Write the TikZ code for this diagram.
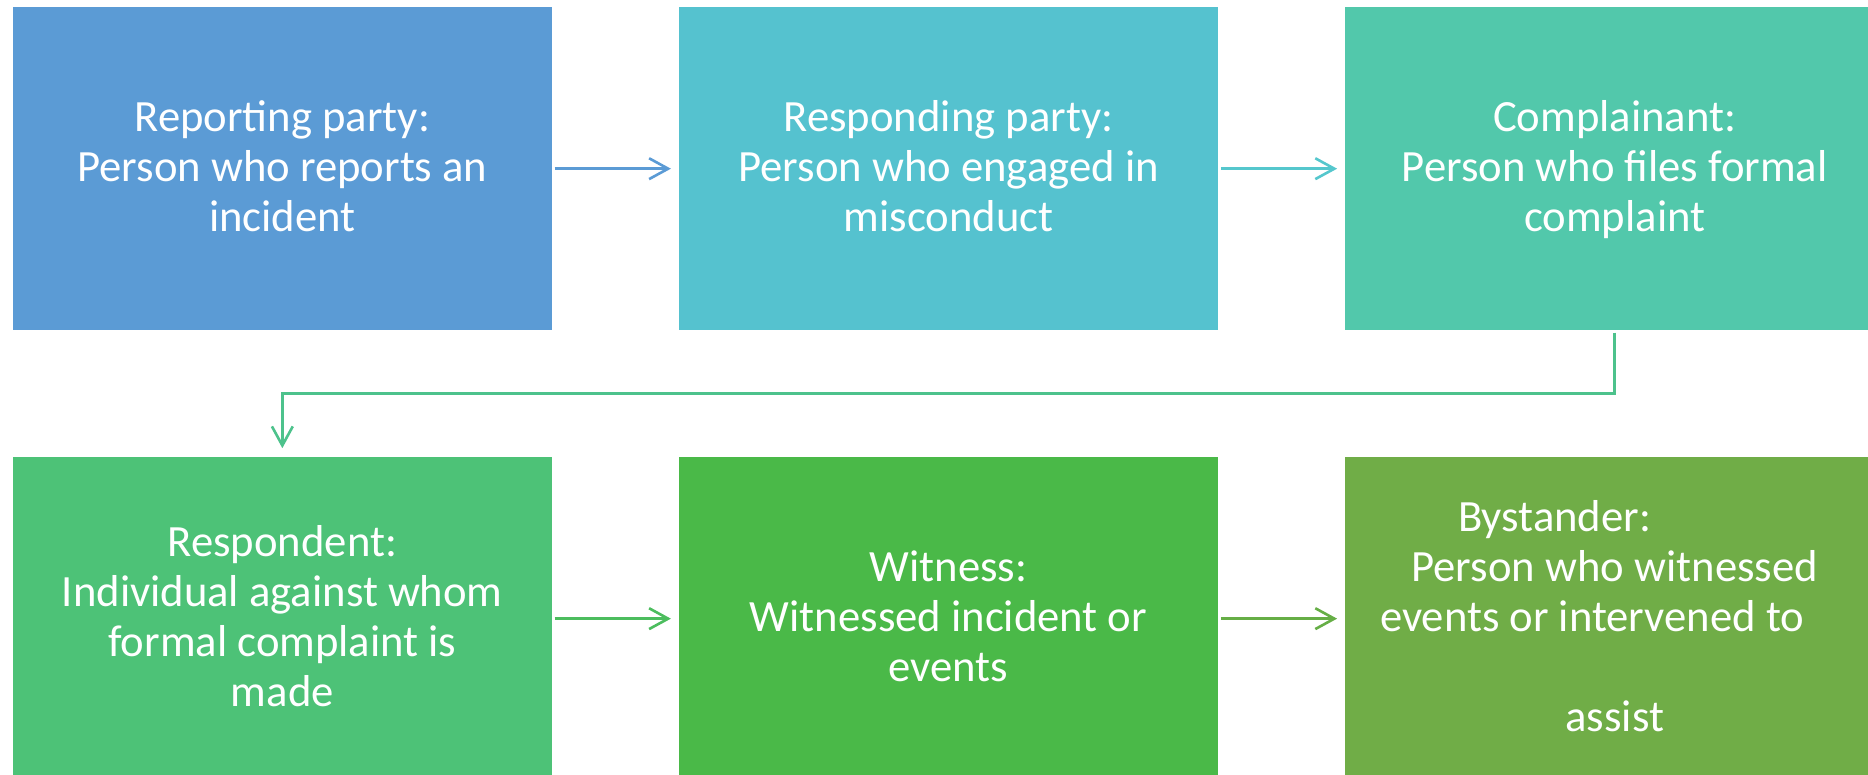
\documentclass[tikz,border=0pt]{standalone}
\usepackage{fontspec}
\setmainfont{Carlito}
\usetikzlibrary{arrows.meta,calc}
\definecolor{cA}{HTML}{5B9BD5}
\definecolor{cB}{HTML}{55C2CF}
\definecolor{cC}{HTML}{52C8AB}
\definecolor{cD}{HTML}{4DC277}
\definecolor{cE}{HTML}{4AB948}
\definecolor{cF}{HTML}{70AD47}
\definecolor{aA}{HTML}{5B9BD5}
\definecolor{aB}{HTML}{55C7CD}
\definecolor{aC}{HTML}{4DC28C}
\definecolor{aD}{HTML}{4CBD5E}
\definecolor{aE}{HTML}{66AE46}
\newcommand{\ls}{\rule[-10.5pt]{0pt}{42pt}}
\tikzset{
  stepbox/.style={rectangle, inner sep=0pt, minimum width=452.7pt, minimum height=270.8pt,
    align=center, text=white, font=\fontsize{37.5}{42}\selectfont},
  conn/.style={line width=2.2pt, -{Straight Barb[length=16pt,width=17.5pt]}}
}
\begin{document}
\begin{tikzpicture}[x=1pt,y=-1pt]
\useasboundingbox (0,0) rectangle (1568,649.7);
\node[stepbox, fill=cA] (b1) at (237,141.6) {\ls Reporting party:\\\ls Person who reports an\\\ls incident};
\node[stepbox, fill=cB] (b2) at (796.2,141.6) {\ls Responding party:\\\ls Person who engaged in\\\ls misconduct};
\node[stepbox, fill=cC] (b3) at (1355.4,141.6) {\ls Complainant:\\\ls Person who files formal\\\ls complaint};
\node[stepbox, fill=cD] (b4) at (237,519.3) {\ls Respondent:\\\ls Individual against whom\\\ls formal complaint is\\\ls made};
\node[stepbox, fill=cE] (b5) at (796.2,519.3) {\ls Witness:\\\ls Witnessed incident or\\\ls events};
\node[stepbox, fill=cF] (b6) at (1355.4,519.3) {\ls Bystander:\hspace*{101pt}\mbox{}\\\ls Person who witnessed\\\ls events or intervened to\hspace*{38pt}\mbox{}\\\ls\mbox{}\\\ls assist};
\draw[conn, aA] ([xshift=2pt]b1.east) -- ([xshift=-6.5pt]b2.west);
\draw[conn, aB] ([xshift=2pt]b2.east) -- ([xshift=-6.5pt]b3.west);
\coordinate (turn) at (1355.4,330.2);
\draw[conn, aC] ([yshift=-2pt]b3.south) -- (turn) -| ([yshift=7.5pt]b4.north);
\draw[conn, aD] ([xshift=2pt]b4.east) -- ([xshift=-6.5pt]b5.west);
\draw[conn, aE] ([xshift=2pt]b5.east) -- ([xshift=-6.5pt]b6.west);
\end{tikzpicture}
\end{document}
